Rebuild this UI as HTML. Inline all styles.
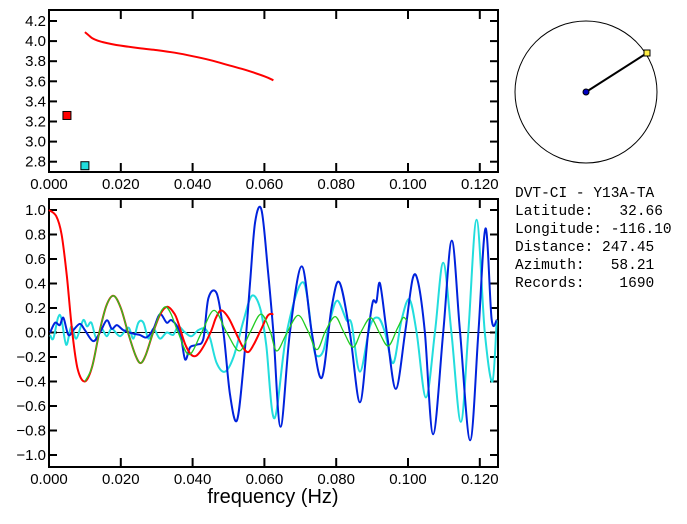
<!DOCTYPE html>
<html><head><meta charset="utf-8"><style>
body{margin:0;background:#fff;}
svg text{font-family:"Liberation Sans",sans-serif;}
</style></head><body>
<svg id="s" width="687" height="519" viewBox="0 0 687 519" xmlns="http://www.w3.org/2000/svg">
<rect width="687" height="519" fill="#fff"/>
<g id="topG"></g>
<g id="botG"></g>
<g>
<circle cx="586" cy="92" r="71" fill="none" stroke="#000" stroke-width="1"/>
<line x1="586" y1="92" x2="647" y2="53" stroke="#000" stroke-width="2"/>
<circle cx="586" cy="92" r="3" fill="#0000c0" stroke="#000"/>
<rect x="644" y="50" width="6" height="6" fill="#ffee44" stroke="#000"/>
</g>
<g font-size="14.5">
<text x="515" y="197" style="font-family:'Liberation Mono',monospace" xml:space="preserve">DVT-CI - Y13A-TA</text>
<text x="515" y="215" style="font-family:'Liberation Mono',monospace" xml:space="preserve">Latitude:   32.66</text>
<text x="515" y="233" style="font-family:'Liberation Mono',monospace" xml:space="preserve">Longitude: -116.10</text>
<text x="515" y="251" style="font-family:'Liberation Mono',monospace" xml:space="preserve">Distance: 247.45</text>
<text x="515" y="269" style="font-family:'Liberation Mono',monospace" xml:space="preserve">Azimuth:   58.21</text>
<text x="515" y="287" style="font-family:'Liberation Mono',monospace" xml:space="preserve">Records:    1690</text>
</g>
<text x="273" y="503" font-size="20" text-anchor="middle">frequency (Hz)</text>
</svg>
<script>
const xTicks=[0,0.02,0.04,0.06,0.08,0.10,0.12];
const xTickLabels=["0.000","0.020","0.040","0.060","0.080","0.100","0.120"];
const topYTicks=[2.8,3.0,3.2,3.4,3.6,3.8,4.0,4.2];
const botYTicks=[-1,-0.8,-0.6,-0.4,-0.2,0,0.2,0.4,0.6,0.8,1.0];
const velF=[0.010,0.011,0.012,0.0135,0.015,0.0175,0.020,0.025,0.030,0.035,0.040,0.045,0.050,0.055,0.060,0.0625];
const velV=[4.09,4.06,4.03,4.005,3.99,3.97,3.955,3.93,3.91,3.885,3.85,3.81,3.76,3.71,3.65,3.61];
const markerF=[0.005,0.010];
const markerV=[3.26,2.76];
const redF=[0,0.002,0.0035,0.005,0.0065,0.008,0.010,0.012,0.014,0.016,0.018,0.020,0.022,0.024,0.0255,0.027,0.029,0.031,0.033,0.035,0.036,0.038,0.040,0.042,0.045,0.0465,0.048,0.050,0.052,0.054,0.0555,0.057,0.059,0.061,0.0625];
const redV=[1.0,0.95,0.8,0.45,0,-0.3,-0.4,-0.28,0,0.22,0.3,0.2,0,-0.18,-0.25,-0.18,0,0.15,0.21,0.15,0.08,-0.1,-0.19,-0.16,0,0.12,0.18,0.12,0,-0.12,-0.16,-0.1,0.02,0.14,0.15];
const greenF=[0.010,0.012,0.014,0.016,0.018,0.020,0.022,0.024,0.0255,0.027,0.029,0.031,0.0325,0.034,0.036,0.039,0.0425,0.046,0.0495,0.053,0.056,0.059,0.0615,0.0634,0.066,0.0693,0.072,0.0746,0.077,0.0797,0.082,0.0847,0.087,0.0896,0.092,0.0945,0.097,0.0986,0.0996];
const greenV=[-0.4,-0.28,0,0.22,0.3,0.2,0,-0.18,-0.25,-0.18,0,0.16,0.21,0.15,0,-0.18,0,0.18,0,-0.15,0,0.15,0.02,-0.15,-0.02,0.14,0.02,-0.14,0.01,0.13,0.01,-0.12,0.01,0.12,0,-0.11,0.03,0.12,0.1];
const blueF=[0.0003,0.0017,0.0030,0.0040,0.0054,0.0068,0.0086,0.0100,0.0123,0.0142,0.0161,0.0175,0.0189,0.0207,0.0235,0.0253,0.0272,0.0291,0.0309,0.0328,0.0342,0.0365,0.0379,0.0393,0.0411,0.0430,0.0444,0.0467,0.0486,0.0504,0.0523,0.0541,0.0560,0.0574,0.0592,0.0610,0.0625,0.0645,0.0671,0.0704,0.0732,0.0760,0.0787,0.0809,0.0838,0.0866,0.0889,0.0902,0.0912,0.0922,0.0941,0.0966,0.0992,0.1013,0.1029,0.1047,0.1070,0.1098,0.1122,0.1145,0.1173,0.1196,0.1216,0.1233,0.1247];
const blueV=[0,0.08,0.06,0.12,-0.02,0.02,0.07,0.02,-0.07,0,0.1,0.03,0.06,0.02,-0.01,-0.02,-0.04,0.03,0.15,0.08,0.1,0,-0.22,-0.12,-0.1,-0.05,0.28,0.32,0,-0.5,-0.72,-0.3,0.4,0.9,1.0,0.5,0,-0.77,0,0.54,0,-0.37,0.2,0.41,0,-0.57,0,0.25,0.25,0.4,0,-0.46,0,0.44,0.4,0,-0.83,0,0.75,0,-0.88,0,0.85,0.11,0.1];
const cyanF=[0.0003,0.0012,0.0025,0.0034,0.0048,0.0062,0.0076,0.0095,0.0106,0.0118,0.0132,0.0146,0.0161,0.0175,0.0198,0.0221,0.0235,0.0249,0.0263,0.0277,0.0291,0.0309,0.0328,0.0346,0.0360,0.0379,0.0397,0.0416,0.0435,0.0449,0.0467,0.0490,0.0514,0.0542,0.0565,0.0588,0.0605,0.0628,0.0662,0.0708,0.0736,0.0746,0.0764,0.0783,0.0803,0.0829,0.0843,0.0866,0.0894,0.0917,0.0936,0.0959,0.0982,0.1004,0.1024,0.1050,0.1075,0.1098,0.1121,0.1147,0.1168,0.1191,0.1214,0.1235,0.1247];
const cyanV=[-0.02,-0.05,0.12,0.12,-0.1,0.05,-0.05,0.1,0.05,0.08,-0.05,0.03,-0.03,0.03,-0.03,0.04,-0.05,0.08,0.08,-0.05,0.03,-0.05,0,-0.02,0.05,0,-0.03,0.02,0.03,-0.05,-0.25,-0.32,-0.2,0.1,0.3,0.2,-0.1,-0.7,0,0.41,-0.1,-0.19,-0.15,0.1,0.26,0.1,0.07,-0.32,0.05,0.12,0,-0.25,0.1,0.27,0,-0.53,0,0.57,0,-0.73,0,0.92,0,-0.4,0.1];
const NS="http://www.w3.org/2000/svg";
const X0=49,X1=498,PX=3590;
const xs=f=>X0+f*PX;
const yTop=v=>161.7-(v-2.8)/0.2*20.1;
const yBot=v=>332.5-v*122.5;
function mk(p,t,a){const e=document.createElementNS(NS,t);for(const k in a)e.setAttribute(k,a[k]);p.appendChild(e);return e;}
function frame(g,y0,y1,yt,yfn){
  const r=mk(g,'rect',{x:X0,y:y0,width:X1-X0,height:y1-y0,fill:'none',stroke:'#000','stroke-width':2});
  
  
  xTicks.forEach((t,i)=>{const x=xs(t);
    const a=mk(g,'line',{x1:x,x2:x,y1:y0,y2:y0+9,stroke:'#000','stroke-width':2});
    
    
    const b=mk(g,'line',{x1:x,x2:x,y1:y1,y2:y1-9,stroke:'#000','stroke-width':2});
    
    
    const l=mk(g,'text',{x:x,y:y1+17,'font-size':15,'text-anchor':'middle'});l.textContent=xTickLabels[i];
    
    
  });
  yt.forEach(t=>{const y=yfn(t);
    const a=mk(g,'line',{x1:X0,x2:X0+8,y1:y,y2:y,stroke:'#000','stroke-width':2});
    
    
    const b=mk(g,'line',{x1:X1,x2:X1-8,y1:y,y2:y,stroke:'#000','stroke-width':2});
    
    
    const l=mk(g,'text',{x:X0-3,y:y+5,'font-size':15,'text-anchor':'end'});
    l.textContent=(t<0?'\u2212':'')+Math.abs(t).toFixed(1);
    
    
  });
}
function drawLine(g,F,V,yfn,col,w,name){
  const P=F.map((f,i)=>[xs(f),yfn(V[i])]);
  let d='M'+P[0][0].toFixed(1)+','+P[0][1].toFixed(1);
  for(let i=0;i<P.length-1;i++){
    const p0=P[Math.max(0,i-1)],p1=P[i],p2=P[i+1],p3=P[Math.min(P.length-1,i+2)];
    const c1=[p1[0]+(p2[0]-p0[0])/6,p1[1]+(p2[1]-p0[1])/6];
    const c2=[p2[0]-(p3[0]-p1[0])/6,p2[1]-(p3[1]-p1[1])/6];
    d+=' C'+c1.map(v=>v.toFixed(1)).join(',')+' '+c2.map(v=>v.toFixed(1)).join(',')+' '+p2.map(v=>v.toFixed(1)).join(',');
  }
  const p=mk(g,'path',{d:d,fill:'none',stroke:col,'stroke-width':w,'stroke-linejoin':'round'});
  
  
}
const topG=document.getElementById('topG'),botG=document.getElementById('botG');
frame(topG,10,172,topYTicks,yTop);
drawLine(topG,velF,velV,yTop,'#ff0000',2,'velocity-curve');
const mc=['#ff0000','#22dddd'];
markerF.forEach((f,i)=>{const r=mk(topG,'rect',{x:xs(f)-4,y:yTop(markerV[i])-4,width:8,height:8,fill:mc[i],stroke:'#000'});
  
  });
frame(botG,199,467,botYTicks,yBot);
const z=mk(botG,'line',{x1:X0,x2:X1,y1:yBot(0),y2:yBot(0),stroke:'#000','stroke-width':1});


drawLine(botG,cyanF,cyanV,yBot,'#22dddd',2,'cyan-series');
drawLine(botG,blueF,blueV,yBot,'#0022dd',2,'blue-series');
drawLine(botG,redF,redV,yBot,'#ff0000',2,'red-series');
drawLine(botG,greenF,greenV,yBot,'#22cc22',1.3,'green-series');
</script>
</body></html>
